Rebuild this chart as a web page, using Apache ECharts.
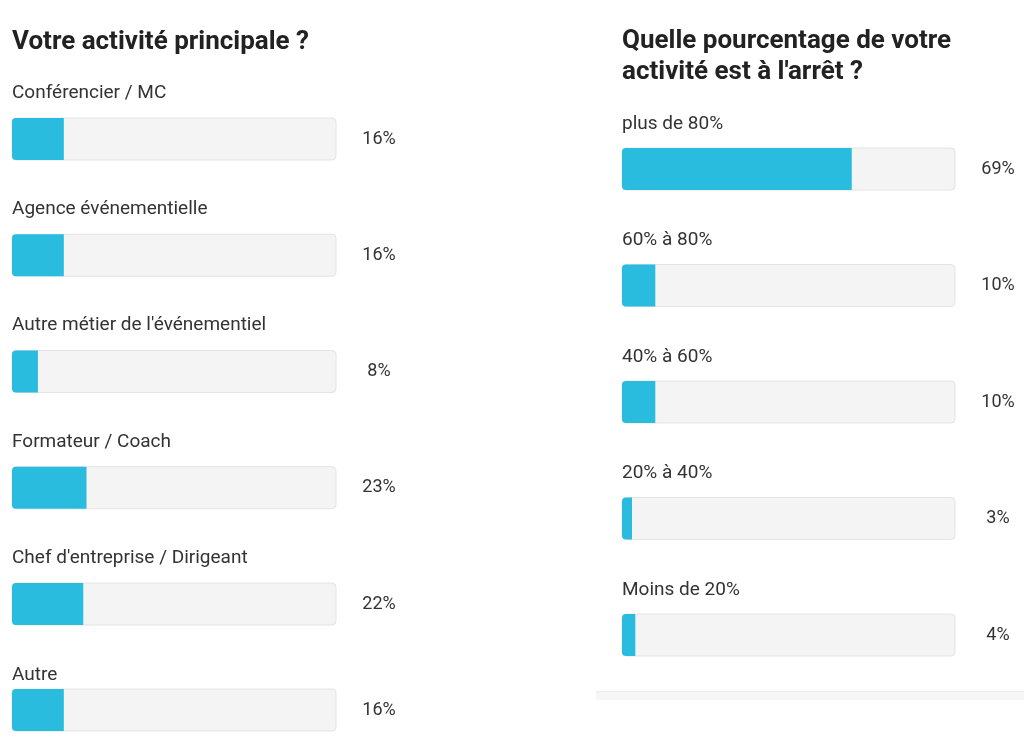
<!DOCTYPE html>
<html>
<head>
<meta charset="utf-8">
<script src="https://cdn.jsdelivr.net/npm/echarts@6/dist/echarts.min.js"></script>
<style>
html,body{margin:0;padding:0;background:#fff;}
#c{width:1024px;height:740px;}
</style>
</head>
<body>
<div id="c"></div>
<script>
const leftTitle = 'Votre activité principale ?';
const leftCategories = ['Conférencier / MC', 'Agence événementielle', "Autre métier de l'événementiel", 'Formateur / Coach', "Chef d'entreprise / Dirigeant", 'Autre'];
const leftValues = [16, 16, 8, 23, 22, 16];
const rightTitle = "Quelle pourcentage de votre\nactivité est à l'arrêt ?";
const rightCategories = ['plus de 80%', '60% à 80%', '40% à 60%', '20% à 40%', 'Moins de 20%'];
const rightValues = [69, 10, 10, 3, 4];

const FONT = 'Roboto';
const FILL = '#29bcdf';
const TEXT = '#333333';

const chart = echarts.init(document.getElementById('c'), null, {renderer: 'canvas'});

const grids = [
  {left: 12, width: 324, top: 80.9, height: 581.25},
  {left: 12, width: 324, top: 689, height: 42},
  {left: 622, width: 333, top: 110.75, height: 582.5}
];
const panels = [
  {cats: leftCategories.slice(0, 5), vals: leftValues.slice(0, 5), labelY: -25},
  {cats: leftCategories.slice(5), vals: leftValues.slice(5), labelY: -14},
  {cats: rightCategories, vals: rightValues, labelY: -24}
];

const xAxis = [], yAxis = [], series = [];
panels.forEach((p, i) => {
  xAxis.push({type: 'value', gridIndex: i, min: 0, max: 100, show: false});
  yAxis.push({
    type: 'category', gridIndex: i, inverse: true, data: p.cats,
    axisLine: {show: false}, axisTick: {show: false}, axisLabel: {show: false}
  });
  yAxis.push({
    type: 'category', gridIndex: i, inverse: true, position: 'right',
    data: p.vals.map(v => v + '%'),
    axisLine: {show: false}, axisTick: {show: false}, splitLine: {show: false},
    axisLabel: {show: true, margin: 43, align: 'center', color: TEXT, fontSize: 18, fontFamily: FONT}
  });
  series.push({
    type: 'bar', xAxisIndex: i, yAxisIndex: i * 2,
    data: p.vals, barWidth: 42,
    showBackground: true,
    backgroundStyle: {color: '#f4f4f4', borderColor: '#e4e4e4', borderWidth: 1, borderRadius: 4},
    itemStyle: {color: FILL, borderRadius: [4, 0, 0, 4]},
    label: {
      show: true, position: [0, p.labelY], verticalAlign: 'middle', align: 'left',
      formatter: (d) => p.cats[d.dataIndex],
      color: TEXT, fontSize: 19, fontFamily: FONT
    },
    silent: true, animation: false
  });
});

chart.setOption({
  animation: false,
  title: [
    {text: leftTitle, left: 12, top: 27, padding: 0, textStyle: {fontFamily: FONT, fontSize: 26, fontWeight: 'bold', color: '#222', lineHeight: 31}},
    {text: rightTitle, left: 622, top: 26, padding: 0, textStyle: {fontFamily: FONT, fontSize: 26, fontWeight: 'bold', color: '#222', lineHeight: 31}}
  ],
  grid: grids,
  xAxis: xAxis,
  yAxis: yAxis,
  series: series,
  graphic: [
    {type: 'rect', shape: {x: 596, y: 692, width: 428, height: 8}, style: {fill: '#f6f6f6'}, silent: true},
    {type: 'rect', shape: {x: 596, y: 691, width: 428, height: 1}, style: {fill: '#ececec'}, silent: true}
  ]
});
</script>
</body>
</html>
